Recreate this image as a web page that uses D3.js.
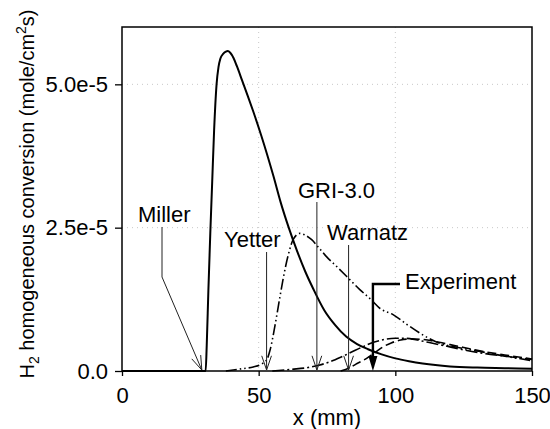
<!DOCTYPE html>
<html>
<head>
<meta charset="utf-8">
<script src="https://cdn.jsdelivr.net/npm/d3@7"></script>
<style>
  body { margin: 0; background: white; }
  svg { font-family: Arial, "Liberation Sans", sans-serif; }
</style>
</head>
<body>
<svg id="chart"></svg>
<script>
// values in units of 1e-5 mole/cm2s
let millerX = [0, 30.6, 31.0, 31.6, 32.3, 33.0, 33.7, 34.6, 35.3, 36.0, 37.0, 38.0, 38.7, 39.6, 40.8, 42.0, 44.0, 46.0, 48.0, 51.0, 55.4, 58, 61, 64, 67, 70, 74, 78, 82, 86, 90, 95, 100, 105, 110, 120, 130, 140, 150]
let millerY = [0, 0, 0.45, 1.4, 2.4, 3.3, 4.2, 5.0, 5.3, 5.45, 5.53, 5.57, 5.58, 5.55, 5.46, 5.32, 5.06, 4.8, 4.53, 4.1, 3.4, 2.95, 2.5, 2.1, 1.74, 1.43, 1.06, 0.8, 0.6, 0.47, 0.38, 0.29, 0.22, 0.17, 0.13, 0.08, 0.06, 0.05, 0.04]

let yetterX = [38, 44, 48, 51, 53, 54.2, 56, 57.8, 59, 60.8, 62.7, 65.1, 67, 69.4, 72, 74.9, 78.6, 82.2, 87, 91, 94.4, 99.3, 104, 109, 116.4, 123, 131, 140, 150]
let yetterY = [0, 0.04, 0.07, 0.12, 0.2, 0.37, 0.8, 1.3, 1.62, 2.02, 2.3, 2.4, 2.37, 2.29, 2.15, 1.99, 1.82, 1.65, 1.42, 1.25, 1.09, 0.98, 0.82, 0.66, 0.48, 0.41, 0.34, 0.26, 0.18]

let griX = [55, 62, 68, 72, 76, 80, 84, 88, 92, 96, 100, 104, 108, 112, 118, 125, 132, 140, 150]
let griY = [0, 0.03, 0.06, 0.1, 0.16, 0.24, 0.33, 0.42, 0.5, 0.55, 0.57, 0.57, 0.54, 0.5, 0.44, 0.37, 0.31, 0.26, 0.2]

let warnatzX = [80, 83.4, 86, 89.5, 92.5, 95.5, 98.5, 102, 106, 110, 116, 122, 130, 140, 150]
let warnatzY = [0, 0.06, 0.13, 0.22, 0.32, 0.42, 0.49, 0.54, 0.56, 0.55, 0.5, 0.44, 0.36, 0.28, 0.21]

let xTicks = [0, 50, 100, 150]
let xTickLabels = ["0", "50", "100", "150"]
let yTicks = [0, 2.5, 5]
let yTickLabels = ["0.0", "2.5e-5", "5.0e-5"]

// ignition points marked with arrows on the x axis
let markNames = ["Miller", "Yetter", "GRI-3.0", "Warnatz", "Experiment"]
let markX = [29.2, 52.9, 71.3, 82.9, 91.8]

let width = 550
let height = 429

let svg = d3.select("#chart")
    .attr("width", width)
    .attr("height", height)

let x = d3.scaleLinear().domain([0, 150]).range([122, 532])
let y = d3.scaleLinear().domain([0, 6]).range([371, 27])

// faint dotted grid
let grid = svg.append("g")
grid.selectAll(".vgrid").data([50, 100]).enter().append("line")
    .attr("x1", d => x(d)).attr("x2", d => x(d))
    .attr("y1", y(6)).attr("y2", y(0))
    .attr("stroke", "#c8c8c8").attr("stroke-width", 1).attr("stroke-dasharray", "1,4")
grid.selectAll(".hgrid").data([2.5, 5]).enter().append("line")
    .attr("x1", x(0)).attr("x2", x(150))
    .attr("y1", d => y(d)).attr("y2", d => y(d))
    .attr("stroke", "#c8c8c8").attr("stroke-width", 1).attr("stroke-dasharray", "1,4")

// axes
let xAxis = svg.append("g")
    .attr("transform", `translate(0,${y(0)})`)
    .call(d3.axisBottom(x).tickValues(xTicks).tickSize(5).tickSizeOuter(0).tickPadding(11)
        .tickFormat((d, i) => xTickLabels[i]))
let yAxis = svg.append("g")
    .attr("transform", `translate(${x(0)},0)`)
    .call(d3.axisLeft(y).tickValues(yTicks).tickSize(7).tickSizeOuter(0).tickPadding(7)
        .tickFormat((d, i) => yTickLabels[i]))

svg.selectAll(".tick text").attr("font-size", 22).attr("font-family", "Arial, 'Liberation Sans', sans-serif").attr("fill", "#000")
svg.selectAll(".tick line").attr("stroke", "#000").attr("stroke-width", 1.3)
svg.selectAll(".domain").remove()

// frame
svg.append("rect")
    .attr("x", x(0)).attr("y", y(6))
    .attr("width", x(150) - x(0)).attr("height", y(0) - y(6))
    .attr("fill", "none").attr("stroke", "#000").attr("stroke-width", 1.5)

// curves
let line = d3.line()
    .x(d => x(d[0]))
    .y(d => y(d[1]))
    .curve(d3.curveMonotoneX)

let series = [
    {xs: warnatzX, ys: warnatzY, dash: "9,4", w: 1.6},
    {xs: griX, ys: griY, dash: "12,3,2,3", w: 1.6},
    {xs: yetterX, ys: yetterY, dash: "11,3,1.5,3,1.5,3", w: 1.6},
    {xs: millerX, ys: millerY, dash: null, w: 2}
]

svg.append("g").selectAll("path").data(series).enter().append("path")
    .attr("d", s => line(s.xs.map((v, i) => [v, s.ys[i]])))
    .attr("fill", "none")
    .attr("stroke", "#000")
    .attr("stroke-width", s => s.w)
    .attr("stroke-dasharray", s => s.dash)

// annotations
let ann = svg.append("g")
let labelPos = [[138, 222], [224, 247], [298, 198], [327, 240], [405, 289]]
ann.selectAll("text").data(markNames).enter().append("text")
    .attr("x", (d, i) => labelPos[i][0])
    .attr("y", (d, i) => labelPos[i][1])
    .attr("font-size", 22)
    .attr("fill", "#000")
    .text(d => d)

function vHead(tx, ty, fromX, fromY, len, spread) {
    let ang = Math.atan2(fromY - ty, fromX - tx)
    let a1 = ang + spread, a2 = ang - spread
    return `M${tx + len * Math.cos(a1)},${ty + len * Math.sin(a1)}L${tx},${ty}L${tx + len * Math.cos(a2)},${ty + len * Math.sin(a2)}`
}

let tipY = y(0) - 1
// Miller: bent arrow
let mTip = x(markX[0])
ann.append("path")
    .attr("d", `M162,227L162,277L${mTip},${tipY}`)
    .attr("fill", "none").attr("stroke", "#222").attr("stroke-width", 1)
ann.append("path")
    .attr("d", vHead(mTip, tipY, 162, 277, 15, 0.33))
    .attr("fill", "none").attr("stroke", "#222").attr("stroke-width", 1)

// straight arrows
let tops = [null, 252, 202, 245]
for (let i = 1; i <= 3; i++) {
    let tx = x(markX[i])
    ann.append("line")
        .attr("x1", tx).attr("x2", tx).attr("y1", tops[i]).attr("y2", tipY)
        .attr("stroke", "#222").attr("stroke-width", 1)
    ann.append("path")
        .attr("d", vHead(tx, tipY, tx, tops[i], 15, 0.33))
        .attr("fill", "none").attr("stroke", "#222").attr("stroke-width", 1)
}

// Experiment: thick arrow with filled head
let eX = x(markX[4])
ann.append("path")
    .attr("d", `M400,284L${eX},284L${eX},${tipY - 10}`)
    .attr("fill", "none").attr("stroke", "#000").attr("stroke-width", 2.4)
ann.append("path")
    .attr("d", `M${eX - 4.5},${tipY - 14}L${eX + 4.5},${tipY - 14}L${eX},${tipY + 1}Z`)
    .attr("fill", "#000")

// axis titles
svg.append("text")
    .attr("x", x(75)).attr("y", 425)
    .attr("text-anchor", "middle")
    .attr("font-size", 22)
    .text("x (mm)")

let yt = svg.append("text")
    .attr("transform", "translate(34,194) rotate(-90)")
    .attr("text-anchor", "middle")
    .attr("font-size", 20)
yt.append("tspan").text("H")
yt.append("tspan").attr("font-size", 14).attr("dy", 5).text("2")
yt.append("tspan").attr("dy", -5).text(" homogeneous conversion (mole/cm")
yt.append("tspan").attr("font-size", 14).attr("dy", -8).text("2")
yt.append("tspan").attr("dy", 8).text("s)")
</script>
</body>
</html>
